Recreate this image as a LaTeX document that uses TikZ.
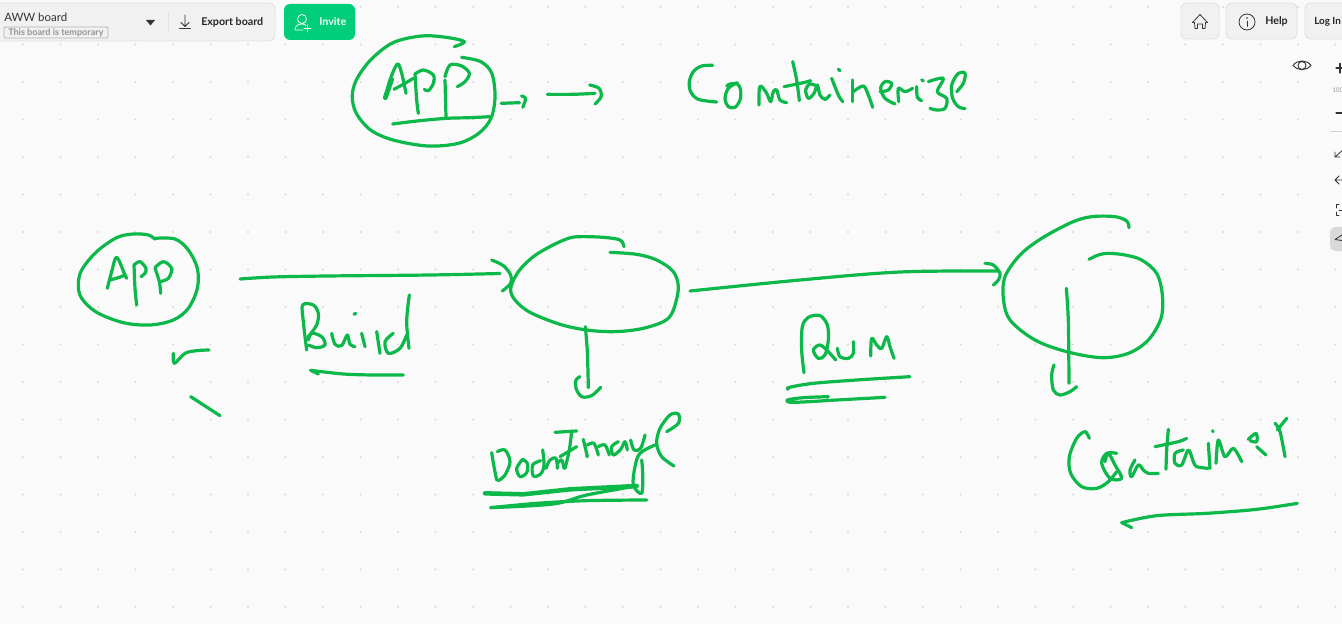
\documentclass[tikz,border=0pt]{standalone}
\usepackage{fontspec}
\setmainfont{Lato}
\definecolor{ink}{HTML}{0CB84A}
\definecolor{paper}{HTML}{FAFAFA}
\definecolor{griddot}{HTML}{D9D9D9}
\definecolor{bar}{HTML}{F1F1F1}
\definecolor{barline}{HTML}{E2E2E2}
\definecolor{invite}{HTML}{00CE78}
\definecolor{uidark}{HTML}{333333}
\newcommand\inkc[1]{\draw[inkline] plot[smooth,tension=0.55] coordinates {#1};}
\tikzset{
  inkline/.style={draw=ink,line width=2.4pt,line cap=round,line join=round},
  uibox/.style={draw=barline,fill=bar,line width=.7pt,rounded corners=4.5pt},
  uilabel/.style={font=\fontsize{8}{9}\selectfont\bfseries,text=black!85,inner sep=0pt,anchor=west},
  uiicon/.style={draw=uidark,line width=.6pt,line cap=round,line join=round},
  zoomed/.style={shift={#1},scale=1/3}
}
\begin{document}
\begin{tikzpicture}[x=.75pt,y=-.75pt]
\useasboundingbox (0,0) rectangle (1342,624);
\clip (0,0) rectangle (1342,624);
\fill[paper] (0,0) rectangle (1342,624);
\foreach \i in {0,...,35}{\foreach \j in {0,...,16}{
  \fill[griddot] ({23+37.5*\i},{7+37.5*\j}) circle[radius=1.2];}}
% ---- top-left toolbar
\draw[uibox] (-8,3) rectangle (275,41);
\node[inner sep=0pt,anchor=west,font=\fontsize{8.6}{10}\selectfont,text=black!80] (boardname) at (4,17) {AWW board};
\draw[draw=black!30,line width=.7pt,rounded corners=1pt] (4,27) rectangle (108,38);
\node[inner sep=0pt,anchor=west,font=\fontsize{6.8}{7}\selectfont\bfseries,text=black!42] (temp) at (8,32.5) {This board is temporary};
\fill[uidark] (146,20) -- (155,20) -- (150.5,25.5) -- cycle;
\draw[barline,line width=.7pt] (168.5,12) -- (168.5,33);
\draw[uiicon] (185,15) -- (185,26) (181,22.5) -- (185,26.5) -- (189,22.5) (179.5,28.5) -- (190.5,28.5);
\node[uilabel] (export) at (201,22) {Export board};
\fill[invite,rounded corners=4.5pt] (284,4) rectangle (355,40);
\draw[white,line width=.6pt,line cap=round] (302,19) circle[radius=4.5]
  (295,30) .. controls (295,26) and (298,24) .. (302,24) .. controls (304,24) and (305,24.5) .. (306,25.5)
  (295,30) -- (303,30) (307.5,25) -- (307.5,32) (304,28.5) -- (311,28.5);
\node[uilabel,text=white] (invitetext) at (319,22) {Invite};
% ---- top-right toolbar
\draw[uibox] (1181,3) rectangle (1219,39);
\draw[uiicon] (1192.5,22.5) -- (1200,14.5) -- (1207.5,22.5) -- (1205.5,22.5) -- (1205,28.5) -- (1202.5,28.5) -- (1202.5,24) -- (1197.5,24) -- (1197.5,28.5) -- (1195,28.5) -- (1194.5,22.5) -- cycle;
\draw[uibox] (1226,3) rectangle (1297,39);
\draw[uiicon] (1247,22) circle[radius=8];
\draw[uiicon] (1247,21) -- (1247,26.5);
\fill[uidark] (1247,18) circle[radius=.8];
\node[uilabel] (help) at (1265,21.5) {Help};
\draw[uibox] (1305,3) rectangle (1360,39);
\node[uilabel,font=\fontsize{7.4}{9}\selectfont\bfseries] (login) at (1314,21.5) {Log In};
\fill[black!2,rounded corners=4pt] (1287,50) rectangle (1317,80);
\draw[uiicon,line width=.7pt] (1293,65.5) .. controls (1297,59.5) and (1307,59.5) .. (1311,65.5) .. controls (1307,71) and (1297,71) .. (1293,65.5) -- cycle;
\draw[uiicon,line width=.7pt] (1302,65.5) circle[radius=4];
\fill[black!2,rounded corners=4pt] (1324,50) rectangle (1360,260);
\draw[uiicon,line width=.8pt] (1336,68) -- (1345,68) (1340,63.5) -- (1340,73);
\node[inner sep=0pt,anchor=west,font=\fontsize{4.8}{5}\selectfont,text=black!40] (zoompct) at (1332,90) {100};
\draw[uiicon,line width=.8pt] (1336,113) -- (1345,113);
\draw[black!18,line width=.6pt] (1330,131.5) -- (1350,131.5);
\draw[uiicon] (1344,149) -- (1335,157) (1335,152) -- (1335,157) -- (1340,157);
\draw[uiicon] (1336,180) -- (1345,180) (1339,176) -- (1335,180) -- (1339,184);
\draw[uiicon] (1336,208) -- (1336,204) -- (1339,204) (1336,212) -- (1336,215) -- (1339,215) (1339,210) -- (1345,210);
\fill[black!15,rounded corners=4pt] (1330,227) rectangle (1360,251);
\draw[uiicon] (1335,239.5) -- (1345,233) (1335,239.5) -- (1345,241) -- (1345,247);
% ---- long straight-ish strokes in picture coordinates
\inkc{(240,279)(273,277)(327,276)(430,275)(500,273.5)}
\inkc{(690,291)(800,280)(900,272)(998,271)}
% ---- top APP circle, arrows
\begin{scope}[shift={(340,30)},xscale=0.408,yscale=1/3]
\inkc{(280,50)(305,35)(260,22)(200,18)(130,38)(75,90)(40,150)(30,200)(40,250)(75,300)(130,330)(215,348)(290,340)(340,310)(370,265)(380,200)(372,130)(345,95)(298,82)}
\inkc{(395,220)(440,218)}
\inkc{(445,198)(455,205)(448,232)}
\inkc{(508,193)(570,193)(625,190)}
\inkc{(612,165)(635,175)(640,200)(625,222)}
\end{scope}
\begin{scope}[zoomed={(370,50)}]
\inkc{(45,145)(60,90)(82,42)(95,70)(108,130)}
\draw[inkline,line width=3.6pt] (46,143) -- (65,88);
\inkc{(72,118)(105,100)(130,85)}
\inkc{(135,72)(140,150)(145,190)}
\inkc{(135,72)(160,60)(190,75)(190,100)(175,122)(163,118)}
\inkc{(225,90)(228,200)}
\inkc{(225,80)(240,45)(275,48)(298,70)(285,95)(262,110)}
\inkc{(68,222)(150,212)(230,205)(300,203)(360,200)}
\end{scope}
% ---- Containerize
\begin{scope}[zoomed={(660,60)}]
\inkc{(158,16)(125,18)(100,35)(88,65)(92,95)(115,118)(170,126)}
\inkc{(232,68)(205,85)(195,115)(205,140)(225,142)(240,120)(242,90)(232,72)(210,72)(200,78)}
\inkc{(297,135)(298,85)(305,80)(320,100)(332,125)(340,95)(350,90)(360,120)(380,128)}
\inkc{(398,5)(410,60)(418,122)}
\inkc{(372,80)(430,68)(452,62)}
\inkc{(475,80)(450,72)(437,90)(445,115)(462,100)(472,75)(480,105)(495,118)(510,105)}
\inkc{(515,55)(535,105)(548,125)}
\inkc{(535,28)(540,32)}
\inkc{(578,60)(578,125)}
\inkc{(580,95)(610,78)(625,105)(638,142)}
\inkc{(660,95)(685,90)(695,70)(675,65)(662,85)(675,115)(705,132)}
\inkc{(716,125)(715,85)(735,95)(758,85)}
\inkc{(785,60)(790,62)}
\inkc{(770,80)(772,112)(785,122)}
\inkc{(805,65)(850,55)(832,95)(860,115)(855,145)(830,150)(810,145)}
\inkc{(890,95)(910,70)(915,40)(895,40)(875,75)(878,115)(895,140)(915,146)}
\end{scope}
% ---- App circle, Build
\begin{scope}[zoomed={(60,225)}]
\inkc{(285,43)(265,30)(220,27)(170,38)(110,80)(65,135)(55,180)(65,220)(110,262)(190,293)(270,300)(340,285)(385,250)(412,190)(412,130)(385,75)(345,42)(285,40)}
\inkc{(142,190)(155,140)(170,97)(195,150)(200,160)}
\inkc{(150,165)(175,158)(195,150)}
\inkc{(222,120)(225,190)(230,240)}
\inkc{(222,120)(240,110)(258,130)(255,145)(243,155)}
\inkc{(285,130)(298,170)(302,205)}
\inkc{(285,128)(310,110)(335,130)(325,160)(300,170)}
\inkc{(740,375)(730,290)(728,240)(760,240)(775,265)(770,300)(745,335)}
\inkc{(745,345)(755,325)(785,335)(795,360)(770,368)(745,360)}
\inkc{(815,325)(825,358)(845,362)(862,330)(870,358)(885,365)}
\inkc{(882,268)(887,265)}
\inkc{(905,325)(915,365)}
\inkc{(950,320)(960,385)}
\inkc{(1000,325)(975,350)(985,385)(1020,370)(1040,330)}
\inkc{(1048,210)(1040,290)(1047,370)}
\inkc{(1030,450)(940,450)(850,447)(752,436)}
\inkc{(752,436)(775,447)}
\inkc{(340,385)(343,415)(375,385)(410,377)(447,375)}
\inkc{(392,515)(480,572)}
\end{scope}
% ---- middle circle
\begin{scope}[zoomed={(490,225)}]
\inkc{(5,105)(40,122)(62,150)(62,175)(37,198)}
\inkc{(402,65)(390,45)(340,37)(270,35)(235,40)(185,62)(130,95)(85,140)(62,190)(75,225)(120,262)(210,298)(290,315)(370,320)(450,312)(520,290)(548,260)(565,190)(550,140)(500,105)(440,88)(360,82)}
\inkc{(286,305)(292,380)(295,488)}
\inkc{(270,455)(258,465)(258,490)(275,515)(305,512)(332,487)}
\end{scope}
% ---- right circle
\begin{scope}[zoomed={(985,205)}]
\inkc{(0,175)(25,180)(45,205)(40,225)(25,240)}
\inkc{(432,68)(425,48)(390,35)(320,35)(260,52)(170,100)(105,150)(60,215)(55,280)(75,345)(150,405)(245,440)(350,458)(430,445)(490,405)(528,340)(532,270)(515,205)(470,165)(420,150)(370,145)(340,150)(312,163)}
\inkc{(244,250)(250,350)(252,535)}
\inkc{(207,480)(200,510)(205,555)(225,570)(255,560)(275,545)}
\end{scope}
% ---- Run
\begin{scope}[zoomed={(770,300)}]
\inkc{(102,218)(95,150)(97,80)(115,52)(150,47)(172,75)(175,120)(165,165)(145,175)(130,150)(150,135)(175,155)(197,180)}
\inkc{(202,145)(210,170)(235,175)(250,160)(250,125)}
\inkc{(302,168)(305,115)(320,135)(335,145)(350,110)(360,140)(372,175)}
\inkc{(55,268)(58,262)(130,250)(260,240)(420,230)}
\inkc{(175,290)(100,293)(52,300)(70,307)(200,300)(345,292)}
\end{scope}
% ---- Docker Image
\begin{scope}[zoomed={(470,400)}]
\inkc{(65,158)(72,200)(80,240)}
\inkc{(82,155)(105,150)(120,185)(105,225)(85,242)}
\inkc{(158,178)(140,205)(150,230)(170,218)(172,190)(158,178)}
\inkc{(212,182)(188,195)(190,228)(212,222)(222,195)(218,150)}
\inkc{(228,205)(240,180)(258,175)(262,205)}
\inkc{(262,190)(275,180)(282,205)}
\inkc{(255,97)(320,93)}
\inkc{(305,93)(298,150)(285,205)}
\inkc{(270,170)(320,140)}
\inkc{(340,118)(352,170)}
\inkc{(352,135)(372,130)(385,165)}
\inkc{(385,140)(405,135)(418,165)}
\inkc{(445,125)(425,140)(430,165)(452,148)(465,125)(472,150)}
\inkc{(482,120)(492,150)(512,145)(525,105)}
\inkc{(555,135)(510,160)(495,200)(490,255)(515,280)(518,220)(515,180)}
\inkc{(590,95)(625,70)(625,42)(600,45)(570,85)(560,130)(575,170)(612,198)}
\draw[inkline,line width=3.4pt] (45,280) -- (160,283) -- (300,268) -- (500,258);
\inkc{(500,258)(350,285)(250,312)(62,323)}
\inkc{(62,323)(200,310)(350,302)(530,300)}
\end{scope}
% ---- Container
\begin{scope}[zoomed={(1040,400)}]
\inkc{(148,115)(135,95)(110,115)(88,170)(92,220)(125,260)(170,265)(205,245)(230,215)}
\inkc{(230,160)(200,160)(185,190)(210,235)(245,235)(225,195)(205,160)(195,185)}
\inkc{(285,180)(270,210)(275,230)(295,195)(310,210)(325,220)(355,220)}
\inkc{(385,88)(380,150)(378,208)}
\inkc{(345,140)(415,125)(440,115)}
\inkc{(430,150)(405,160)(405,190)(425,195)(445,150)(460,185)(470,200)(505,205)}
\inkc{(505,130)(510,205)}
\inkc{(518,92)(519,95)}
\inkc{(528,190)(535,120)(555,170)(580,145)(605,185)}
\inkc{(625,118)(648,100)(650,125)(630,122)}
\inkc{(650,140)(678,165)}
\inkc{(705,70)(720,95)(735,170)}
\inkc{(712,90)(740,55)}
\inkc{(772,310)(650,328)(500,340)(350,347)(245,368)}
\inkc{(245,368)(275,383)}
\end{scope}
\end{tikzpicture}
\end{document}
